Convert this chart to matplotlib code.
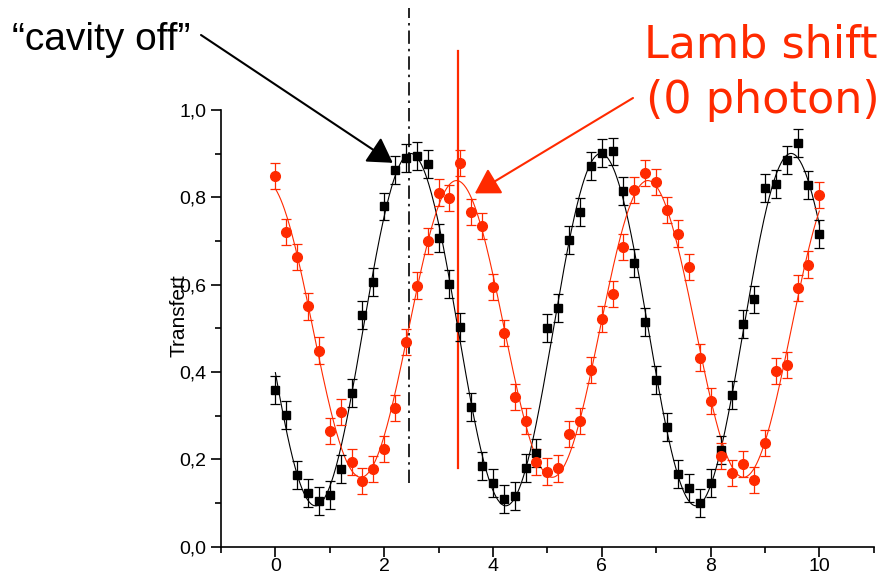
import numpy as np
import matplotlib
matplotlib.use("Agg")
import matplotlib.pyplot as plt
from matplotlib.ticker import MultipleLocator, FuncFormatter

plt.rcParams['font.family'] = ['Liberation Sans', 'DejaVu Sans']

# phase values (both series sampled every 0.2)
x_phase = [0.0, 0.2, 0.4, 0.6, 0.8, 1.0, 1.2, 1.4, 1.6, 1.8,
           2.0, 2.2, 2.4, 2.6, 2.8, 3.0, 3.2, 3.4, 3.6, 3.8,
           4.0, 4.2, 4.4, 4.6, 4.8, 5.0, 5.2, 5.4, 5.6, 5.8,
           6.0, 6.2, 6.4, 6.6, 6.8, 7.0, 7.2, 7.4, 7.6, 7.8,
           8.0, 8.2, 8.4, 8.6, 8.8, 9.0, 9.2, 9.4, 9.6, 9.8, 10.0]

# "cavity off" fringe (black squares)
transfer_off = [0.359, 0.301, 0.164, 0.123, 0.104, 0.118, 0.178, 0.351, 0.530, 0.605,
                0.779, 0.862, 0.889, 0.895, 0.877, 0.706, 0.601, 0.504, 0.319, 0.185,
                0.145, 0.109, 0.116, 0.179, 0.215, 0.500, 0.546, 0.702, 0.766, 0.871,
                0.902, 0.905, 0.814, 0.650, 0.514, 0.382, 0.275, 0.166, 0.134, 0.099,
                0.145, 0.221, 0.347, 0.509, 0.566, 0.821, 0.830, 0.885, 0.924, 0.828, 0.716]

# 0 photon fringe (red circles)
transfer_0ph = [0.849, 0.721, 0.664, 0.550, 0.449, 0.265, 0.308, 0.194, 0.150, 0.177,
                0.223, 0.317, 0.468, 0.598, 0.700, 0.811, 0.798, 0.879, 0.767, 0.735,
                0.595, 0.489, 0.343, 0.288, 0.194, 0.172, 0.179, 0.257, 0.287, 0.404,
                0.521, 0.579, 0.687, 0.817, 0.856, 0.836, 0.771, 0.717, 0.641, 0.433,
                0.334, 0.208, 0.169, 0.189, 0.153, 0.238, 0.402, 0.416, 0.592, 0.646, 0.805]

err_off = 0.032
err_0ph = 0.030

cavity_off_x = 2.458   # dash-dot marker
lamb_x = 3.349         # red marker

RED = '#ff2a00'


def sine_fit(x, y):
    # linear least squares on offset + cos + sin, scanning the period
    x = np.asarray(x)
    y = np.asarray(y)
    best = None
    for period in np.linspace(3.0, 4.0, 401):
        w = 2 * np.pi / period
        A = np.column_stack([np.ones_like(x), np.cos(w * x), np.sin(w * x)])
        coef = np.linalg.lstsq(A, y, rcond=None)[0]
        res = np.sum((A @ coef - y) ** 2)
        if best is None or res < best[0]:
            best = (res, w, coef)
    _, w, c = best
    return lambda t: c[0] + c[1] * np.cos(w * t) + c[2] * np.sin(w * t)


fig = plt.figure(figsize=(8.86, 5.76), dpi=100)
ax = fig.add_axes([221 / 886, 29.4 / 576, 652.7 / 886, 436.6 / 576])

t = np.linspace(0, 10, 600)
fit_off = sine_fit(x_phase, transfer_off)
fit_0ph = sine_fit(x_phase, transfer_0ph)
ax.plot(t, fit_off(t), color='black', lw=0.8, zorder=2)
ax.plot(t, fit_0ph(t), color=RED, lw=0.8, zorder=2)

ax.errorbar(x_phase, transfer_off, yerr=err_off, fmt='s', color='black',
            ms=6.3, capsize=3.5, elinewidth=0.9, capthick=0.9, zorder=3)
ax.errorbar(x_phase, transfer_0ph, yerr=err_0ph, fmt='o', color=RED,
            ms=7, capsize=3.5, elinewidth=0.9, capthick=0.9, zorder=3)

# reference lines
ax.plot([cavity_off_x, cavity_off_x], [0.146, 1.233], color='black', lw=1.2,
        ls=(0, (8, 3, 1.5, 3)), clip_on=False, zorder=1)
ax.plot([lamb_x, lamb_x], [0.179, 1.136], color=RED, lw=1.6,
        clip_on=False, zorder=1)

ax.set_xlim(-1, 11)
ax.set_ylim(0, 1.0)
ax.xaxis.set_major_locator(MultipleLocator(2))
ax.xaxis.set_minor_locator(MultipleLocator(1))
ax.yaxis.set_major_locator(MultipleLocator(0.2))
ax.yaxis.set_minor_locator(MultipleLocator(0.1))
ax.yaxis.set_major_formatter(FuncFormatter(lambda v, p: f"{v:.1f}".replace('.', ',')))
ax.tick_params(which='major', direction='out', length=7, width=1.2, labelsize=14)
ax.tick_params(which='minor', direction='out', length=4, width=1.2)
ax.tick_params(axis='x', which='major', pad=1.5)
for side in ('top', 'right'):
    ax.spines[side].set_visible(False)
for side in ('left', 'bottom'):
    ax.spines[side].set_linewidth(1.2)

ax.set_ylabel('Transfert', fontsize=15)
ax.yaxis.set_label_coords(-0.05, 0.53)

# annotations
fig.text(12 / 886, 1 - 40 / 576, '\u201ccavity off\u201d', fontsize=28,
         ha='left', va='center')
ax.annotate('', xy=(2.158, 0.879), xycoords='data',
            xytext=(201 / 886, 1 - 35 / 576), textcoords='figure fraction',
            arrowprops=dict(arrowstyle='-|>,head_length=0.75,head_width=0.45',
                            color='black', lw=1.5, mutation_scale=20,
                            shrinkA=0, shrinkB=0))

fig.text(878 / 886, 1 - 45 / 576, 'Lamb shift', fontsize=32, color=RED,
         family='DejaVu Sans', ha='right', va='center')
fig.text(880 / 886, 1 - 100 / 576, '(0 photon)', fontsize=32, color=RED,
         family='DejaVu Sans', ha='right', va='center')
ax.annotate('', xy=(3.667, 0.809), xycoords='data',
            xytext=(633 / 886, 1 - 98 / 576), textcoords='figure fraction',
            arrowprops=dict(arrowstyle='-|>,head_length=0.75,head_width=0.45',
                            color=RED, lw=1.5, mutation_scale=20,
                            shrinkA=0, shrinkB=0))

fig.savefig('out.png', dpi=100)
